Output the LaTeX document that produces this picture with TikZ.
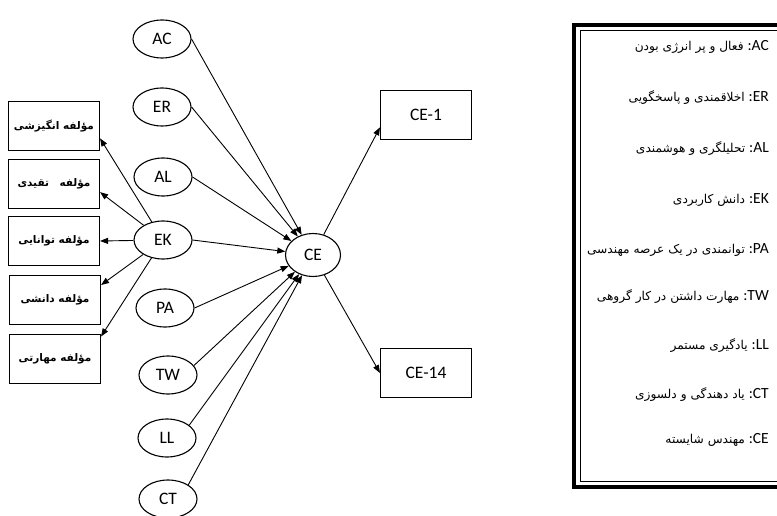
\documentclass[tikz,border=0pt]{standalone}
\usepackage{fontspec}
\setmainfont{Carlito}
\newfontfamily\persian[Script=Arabic]{DejaVu Sans}
\TeXXeTstate=1
\usetikzlibrary{shapes.geometric,arrows.meta}
\newcommand\leglbl[1]{\beginL{\rmfamily\fontsize{15.5}{15}\selectfont #1}\endL{\rmfamily\fontsize{15.5}{15}\selectfont :}\ }
\begin{document}
\begin{tikzpicture}[x=1pt,y=-1pt,
  var/.style={ellipse,draw,line width=1.1pt,minimum width=58pt,minimum height=38pt,inner sep=0pt,font=\fontsize{17.5}{17}\selectfont},
  obs/.style={rectangle,draw,line width=1.1pt,minimum width=91pt,minimum height=49pt,inner sep=0pt},
  ptext/.style={font=\persian\bfseries\fontsize{10.5}{11}\selectfont},
  arr/.style={-{Triangle[length=8pt,width=6pt]},line width=0.9pt},
  leg/.style={anchor=east,inner sep=0pt,font=\persian\fontsize{12.2}{13}\selectfont}]
\useasboundingbox (0,0) rectangle (777,516);
\clip (0,0) rectangle (777,516);
% latent variables
\node[var] (ac) at (162,39) {AC};
\node[var] (er) at (162,107) {ER};
\node[var] (al) at (163,177) {AL};
\node[var] (ek) at (163,240) {EK};
\node[var] (pa) at (165,308) {PA};
\node[var] (tw) at (168,375) {TW};
\node[var] (ll) at (167,438) {LL};
\node[var] (ct) at (168,499) {CT};
\node[var,minimum width=55pt,minimum height=43pt] (ce) at (313,255) {CE};
% indicators
\node[obs,font=\fontsize{17.5}{17}\selectfont] (ce1) at (426,115) {CE-1};
\node[obs,font=\fontsize{17.5}{17}\selectfont] (ce14) at (426,373) {CE-14};
\node[obs,ptext] (b1) at (54,126) {\beginR مؤلفه انگیزشی\endR};
\node[obs,ptext] (b2) at (54,184) {\beginR مؤلفه\quad تقیدی\endR};
\node[obs,ptext] (b3) at (54,241) {\beginR مؤلفه توانایی\endR};
\node[obs,ptext] (b4) at (55,300) {\beginR مؤلفه دانشی\endR};
\node[obs,ptext] (b5) at (55,359) {\beginR مؤلفه مهارتی\endR};
% connectors
\foreach \n in {ac,er,al,ek,pa} \draw[arr] (\n.east) -- (ce);
\draw[arr] (tw.20) -- (ce);
\draw[arr] (ll.30) -- (ce);
\draw[arr] (ct.35) -- (ce);
\draw[arr] (ek) -- (b1.-15);
\draw[arr] (ek) -- (b2.-10);
\draw[arr] (ek) -- (b3.east);
\draw[arr] (ek) -- (b4.18);
\draw[arr] (ek) -- (b5.26);
\draw[arr] (ce) -- (ce1.195);
\draw[arr] (ce) -- (ce14.west);
% legend
\draw[line width=4pt] (574,25) rectangle (810,487);
\draw[line width=1pt] (580,31) rectangle (810,481);
\node[leg] (lac) at (769,47) {\beginR\leglbl{AC}فعال و پر انرژی بودن\endR};
\node[leg] (ler) at (769,98) {\beginR\leglbl{ER}اخلاقمندی و پاسخگویی\endR};
\node[leg] (lal) at (769,149) {\beginR\leglbl{AL}تحلیلگری و هوشمندی\endR};
\node[leg] (lek) at (769,200) {\beginR\leglbl{EK}دانش کاربردی\endR};
\node[leg] (lpa) at (769,250) {\beginR\leglbl{PA}توانمندی در یک عرصه مهندسی\endR};
\node[leg] (ltw) at (769,297) {\beginR\leglbl{TW}مهارت داشتن در کار گروهی\endR};
\node[leg] (lll) at (769,346) {\beginR\leglbl{LL}یادگیری مستمر\endR};
\node[leg] (lct) at (769,395) {\beginR\leglbl{CT}یاد دهندگی و دلسوزی\endR};
\node[leg] (lce) at (769,440) {\beginR\leglbl{CE}مهندس شایسته\endR};
\end{tikzpicture}
\end{document}
